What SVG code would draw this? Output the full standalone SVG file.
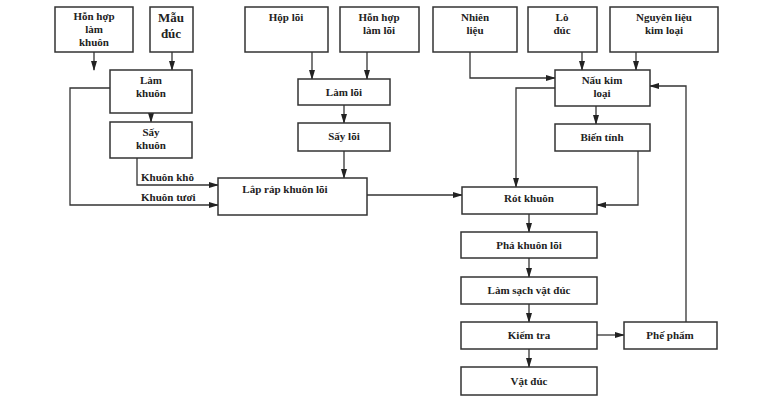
<svg xmlns="http://www.w3.org/2000/svg" width="763" height="400" viewBox="0 0 763 400">
<defs><marker id="a" markerWidth="10" markerHeight="8" refX="9" refY="4" orient="auto" markerUnits="userSpaceOnUse"><path d="M0,1 L10,4 L0,7 Z" fill="#222"/></marker></defs>
<style>
rect{fill:#fff;stroke:#333;stroke-width:1.5}
text{font-family:"Liberation Serif",serif;font-weight:bold;font-size:11px;fill:#222;text-anchor:middle}
#c path{fill:none;stroke:#333;stroke-width:1.3;marker-end:url(#a)}
.l{text-anchor:start}
</style>
<rect x="0" y="0" width="763" height="400" style="stroke:none"/>
<g id="c">
<path d="M94,52V70"/><path d="M172,52V70"/><path d="M312,52V79"/><path d="M367,52V79"/>
<path d="M151,113V122"/><path d="M344,105V123"/><path d="M344,151V178"/>
<path d="M137,158V185H218"/><path d="M110,88H70V205H218"/>
<path d="M367,195H462"/><path d="M470,52V78H555"/>
<path d="M582,52V70"/><path d="M636,52V70"/>
<path d="M555,88H516V187"/><path d="M596,106V124"/>
<path d="M638,151V205H597"/>
<path d="M529,214V232"/><path d="M529,258V277"/><path d="M529,304V322"/><path d="M529,349V367"/>
<path d="M597,335H624"/><path d="M686,322V86H650"/>
</g>
<text class="l" x="141" y="181">Khuôn khô</text>
<text class="l" x="141" y="201">Khuôn tươi</text>
<g id="n1"><rect x="55" y="7" width="78" height="45"/><text x="94" y="20">Hỗn hợp</text><text x="94" y="33">làm</text><text x="94" y="46">khuôn</text></g>
<g id="n2"><rect x="150" y="7" width="43" height="45"/><text x="171" y="22" style="font-size:13px">Mẫu</text><text x="171" y="38" style="font-size:13px">đúc</text></g>
<g id="n3"><rect x="245" y="7" width="83" height="45"/><text x="286" y="21">Hộp lõi</text></g>
<g id="n4"><rect x="340" y="7" width="79" height="45"/><text x="379" y="21">Hỗn hợp</text><text x="379" y="34">làm lõi</text></g>
<g id="n5"><rect x="110" y="70" width="82" height="43"/><text x="151" y="84">Làm</text><text x="151" y="97">khuôn</text></g>
<g id="n6"><rect x="110" y="122" width="82" height="36"/><text x="151" y="136">Sấy</text><text x="151" y="149">khuôn</text></g>
<g id="n7"><rect x="298" y="79" width="92" height="26"/><text x="344" y="96">Làm lõi</text></g>
<g id="n8"><rect x="298" y="123" width="92" height="28"/><text x="344" y="140">Sấy lõi</text></g>
<g id="n9"><rect x="218" y="178" width="149" height="37"/><text x="285" y="193">Lắp ráp khuôn lõi</text></g>
<g id="n10"><rect x="433" y="7" width="84" height="45"/><text x="475" y="21">Nhiên</text><text x="475" y="34">liệu</text></g>
<g id="n11"><rect x="528" y="7" width="69" height="45"/><text x="562" y="21">Lò</text><text x="562" y="34">đúc</text></g>
<g id="n12"><rect x="610" y="7" width="108" height="45"/><text x="664" y="21">Nguyên liệu</text><text x="664" y="34">kim loại</text></g>
<g id="n13"><rect x="555" y="70" width="95" height="36"/><text x="602" y="84">Nấu kim</text><text x="602" y="97">loại</text></g>
<g id="n14"><rect x="555" y="124" width="95" height="27"/><text x="602" y="141">Biến tính</text></g>
<g id="n15"><rect x="462" y="187" width="135" height="27"/><text x="529" y="202">Rót khuôn</text></g>
<g id="n16"><rect x="461" y="232" width="136" height="26"/><text x="529" y="249">Phá khuôn lõi</text></g>
<g id="n17"><rect x="461" y="277" width="136" height="27"/><text x="529" y="294">Làm sạch vật đúc</text></g>
<g id="n18"><rect x="461" y="322" width="136" height="27"/><text x="529" y="339">Kiểm tra</text></g>
<g id="n19"><rect x="461" y="367" width="136" height="28"/><text x="529" y="385">Vật đúc</text></g>
<g id="n20"><rect x="624" y="322" width="93" height="27"/><text x="670" y="339">Phế phẩm</text></g>
</svg>
